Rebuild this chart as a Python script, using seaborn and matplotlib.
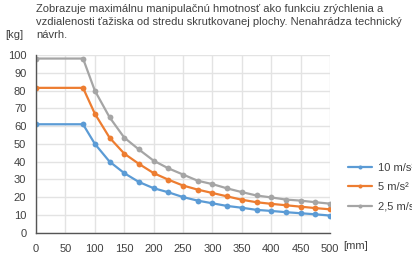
import matplotlib
matplotlib.use("Agg")
import matplotlib.pyplot as plt
import seaborn as sns
import pandas as pd

distance_mm = [0, 80, 100, 125, 150, 175, 200, 225, 250, 275, 300, 325, 350, 375, 400, 425, 450, 475, 500]
mass_10 = [61, 61, 50, 40, 33.5, 28.5, 25, 22.7, 20, 18, 16.5, 15, 14, 12.8, 12.2, 11.5, 10.9, 10.3, 9.6]
mass_5 = [81.5, 81.5, 67, 53.5, 44.5, 38.7, 33.5, 29.8, 26.5, 24.2, 22.3, 20.4, 18.5, 17.1, 16.2, 15.4, 14.6, 13.8, 13.1]
mass_25 = [98, 98, 80, 65, 53.5, 46.8, 40.5, 36.2, 32.7, 29.2, 27.3, 24.9, 22.8, 20.9, 19.8, 18.6, 18, 17.1, 16.3]
series_labels = ["10 m/s²", "5 m/s²", "2,5 m/s²"]
x_ticks = [0, 50, 100, 150, 200, 250, 300, 350, 400, 450, 500]
y_ticks = [0, 10, 20, 30, 40, 50, 60, 70, 80, 90, 100]
title = ("Zobrazuje maximálnu manipulačnú hmotnosť ako funkciu zrýchlenia a\n"
         "vzdialenosti ťažiska od stredu skrutkovanej plochy. Nenahrádza technický\n"
         "návrh.")

sns.set_theme(style="white")
plt.rcParams['font.family'] = ['Liberation Sans', 'DejaVu Sans']

colors = ["#5B9BD5", "#ED7D31", "#A5A5A5"]
text_color = "#404040"

fig = plt.figure(figsize=(4.12, 2.54), dpi=100)
ax = fig.add_axes([36/412, 1-232.6/254, (330-36)/412, (232.6-55)/254])

for vals, lab, col in zip([mass_10, mass_5, mass_25], series_labels, colors):
    df = pd.DataFrame({"x": distance_mm, "y": vals})
    sns.lineplot(data=df, x="x", y="y", ax=ax, color=col, marker="o",
                 markersize=4.2, markeredgewidth=0, linewidth=1.6, label=lab)

ax.set_xlim(0, 500)
ax.set_ylim(0, 100)
ax.set_xticks(x_ticks)
ax.set_yticks(y_ticks)
ax.set_xlabel("")
ax.set_ylabel("")
ax.grid(True, color="#E3E3E3", linewidth=1)
ax.set_axisbelow(True)
for s in ["top", "right"]:
    ax.spines[s].set_visible(False)
for s in ["left", "bottom"]:
    ax.spines[s].set_color("#555555")
    ax.spines[s].set_linewidth(1)
ax.tick_params(axis="y", length=0, labelsize=8, colors=text_color, pad=7)
ax.tick_params(axis="x", length=0, labelsize=8, colors=text_color, pad=8)

leg = ax.legend(loc="center left", bbox_to_anchor=(1.045, 0.255), frameon=False,
                fontsize=8, labelcolor=text_color, handlelength=2.2, handletextpad=0.5,
                labelspacing=0.85, borderaxespad=0, markerscale=0.7)

fig.text(36/412, 1-4/254, title, ha="left", va="top", fontsize=8.0,
         color=text_color, linespacing=1.38)
fig.text(5/412, 1-35/254, "[kg]", ha="left", va="center", fontsize=8, color=text_color)
fig.text(343/412, 1-246/254, "[mm]", ha="left", va="center", fontsize=8, color=text_color)

fig.savefig("out.png", dpi=100)
